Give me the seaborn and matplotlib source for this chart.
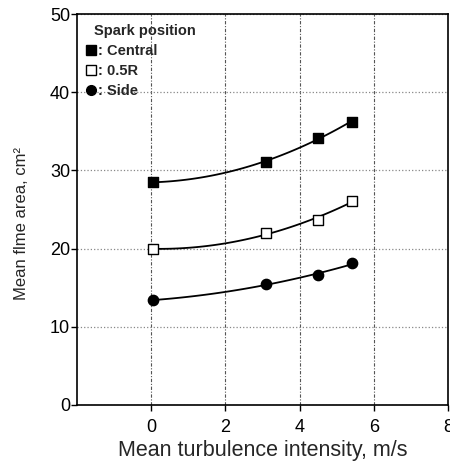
import matplotlib
matplotlib.use("Agg")
import matplotlib.pyplot as plt
from matplotlib.lines import Line2D
import seaborn as sns
import pandas as pd

# Mean turbulence intensity (m/s) for each measurement
turbulence = [0.05, 3.1, 4.48, 5.4]
# Mean flame area (cm^2) per spark position
central = [28.5, 31.1, 34.2, 36.2]
half_r = [19.95, 22.0, 23.7, 26.1]
side = [13.4, 15.5, 16.6, 18.1]

series_names = ["Central", "0.5R", "Side"]
x_ticks = [0, 2, 4, 6, 8]
y_ticks = [0, 10, 20, 30, 40, 50]

sns.set_style("ticks")
plt.rcParams["font.family"] = ["Liberation Sans", "DejaVu Sans"]

df = pd.DataFrame({
    "u": turbulence * 3,
    "area": central + half_r + side,
    "pos": [n for n in series_names for _ in turbulence],
})

fig = plt.figure(figsize=(4.5, 4.61), dpi=100)
ax = fig.add_axes([0.171, 0.1215, 0.825, 0.848])

# smooth quadratic trend through each series
for name in series_names:
    sub = df[df["pos"] == name]
    sns.regplot(data=sub, x="u", y="area", order=2, ci=None, scatter=False,
                ax=ax, line_kws=dict(color="black", lw=1.3))

styles = {
    "Central": dict(marker="s", facecolor="black"),
    "0.5R": dict(marker="s", facecolor="white"),
    "Side": dict(marker="o", facecolor="black"),
}
for name in series_names:
    sub = df[df["pos"] == name]
    sns.scatterplot(data=sub, x="u", y="area", ax=ax, s=55,
                    marker=styles[name]["marker"],
                    facecolor=styles[name]["facecolor"],
                    edgecolor="black", linewidth=1.0, zorder=5, legend=False)

ax.set_xlim(-2, 8)
ax.set_ylim(0, 50)
ax.set_xticks(x_ticks)
ax.set_yticks(y_ticks)
ax.xaxis.grid(True, linestyle=(0, (3, 1.5, 1, 1.5)), color="#555555", linewidth=0.8)
ax.yaxis.grid(True, linestyle=":", color="#888888", linewidth=0.9)
ax.tick_params(labelsize=13, length=4, width=1, direction="out", colors="black")
ax.tick_params(axis="y", pad=1)
ax.tick_params(axis="x", pad=6)
for sp in ax.spines.values():
    sp.set_visible(True)
    sp.set_color("black")
    sp.set_linewidth(1.2)

ax.set_xlabel("Mean turbulence intensity, m/s", fontsize=15.5, labelpad=3)
ax.set_ylabel("Mean flme area, cm\u00b2", fontsize=12, labelpad=15)
ax.yaxis.label.set_y(0.463)

handles = [
    Line2D([], [], ls="none", marker="s", markersize=7, mfc="black", mec="black"),
    Line2D([], [], ls="none", marker="s", markersize=7, mfc="white", mec="black"),
    Line2D([], [], ls="none", marker="o", markersize=7, mfc="black", mec="black"),
]
leg = ax.legend(handles, [": " + n for n in series_names], title="Spark position",
                loc="upper left", frameon=False, fontsize=10.5, title_fontsize=10.5,
                handlelength=0.6, handletextpad=0.2, labelspacing=0.42,
                borderaxespad=0.25, alignment="left")
leg.get_title().set_fontweight("bold")
leg.get_title().set_position((8, 0))
for t in leg.get_texts():
    t.set_fontweight("bold")

fig.savefig("out.png", dpi=100)
